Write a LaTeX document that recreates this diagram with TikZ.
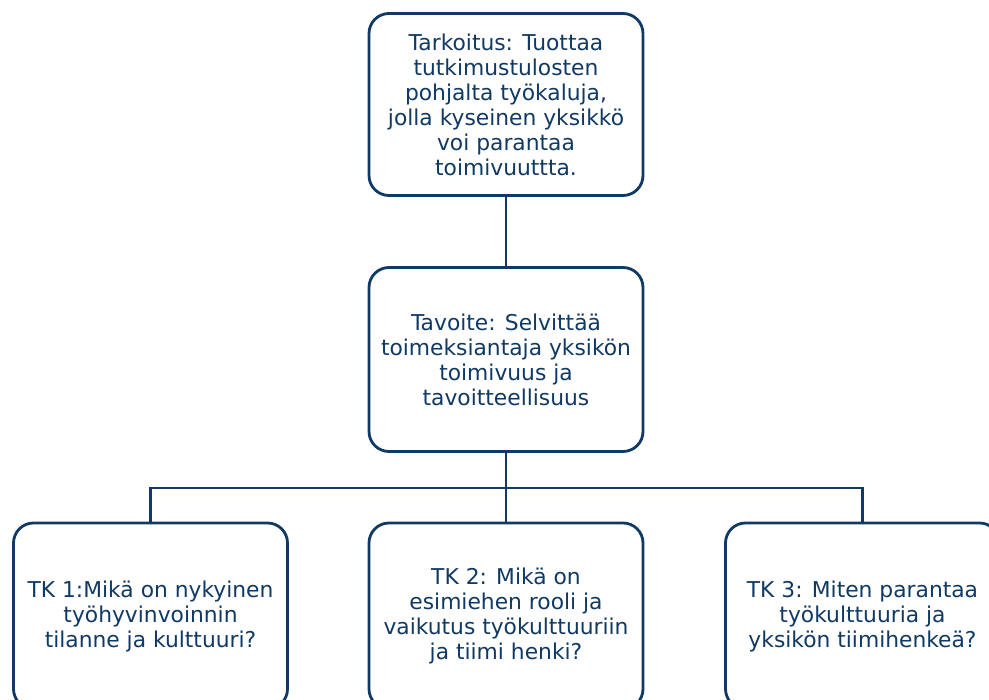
\documentclass[tikz,border=0pt]{standalone}
\usepackage{fontspec}
\setmainfont{DejaVu Sans}
\definecolor{navy}{RGB}{16,58,100}
\tikzset{
  box/.style={draw=navy, line width=2.8pt, rounded corners=20pt, fill=white,
    text=navy, align=center, inner sep=0pt,
    minimum width=274pt, minimum height=182pt,
    font=\fontsize{21.8}{25}\selectfont},
  link/.style={draw=navy, line width=2.8pt}
}
\begin{document}
\begin{tikzpicture}[x=1pt,y=-1pt]
\useasboundingbox (0,0) rectangle (989,700);
\clip (0,0) rectangle (989,700);

% ylimmät laatikot
\node[box] (tark) at (506,104.5) {Tarkoitus: Tuottaa\\tutkimustulosten\\pohjalta työkaluja,\\jolla kyseinen yksikkö\\voi parantaa\\toimivuuttta.};
\node[box, minimum height=184pt] (tav) at (506,359.5) {Tavoite: Selvittää\\toimeksiantaja yksikön\\toimivuus ja\\tavoitteellisuus};

% tutkimuskysymykset
\node[box, minimum height=186pt] (tk1) at (150.5,616) {TK 1:Mikä on nykyinen\\työhyvinvoinnin\\tilanne ja kulttuuri?};
\node[box, minimum height=186pt] (tk2) at (506,616) {TK 2: Mikä on\\esimiehen rooli ja\\vaikutus työkulttuuriin\\ja tiimi henki?};
\node[box, minimum height=186pt] (tk3) at (862.5,616) {TK 3: Miten parantaa\\työkulttuuria ja\\yksikön tiimihenkeä?};

% yhteydet
\coordinate (haara) at (506,488);
\draw[link] (tark.south) -- (tav.north);
\draw[link] (tav.south) -- (tk2.north);
\draw[link] (tk1.north) |- (haara) -| (tk3.north);
\end{tikzpicture}
\end{document}
